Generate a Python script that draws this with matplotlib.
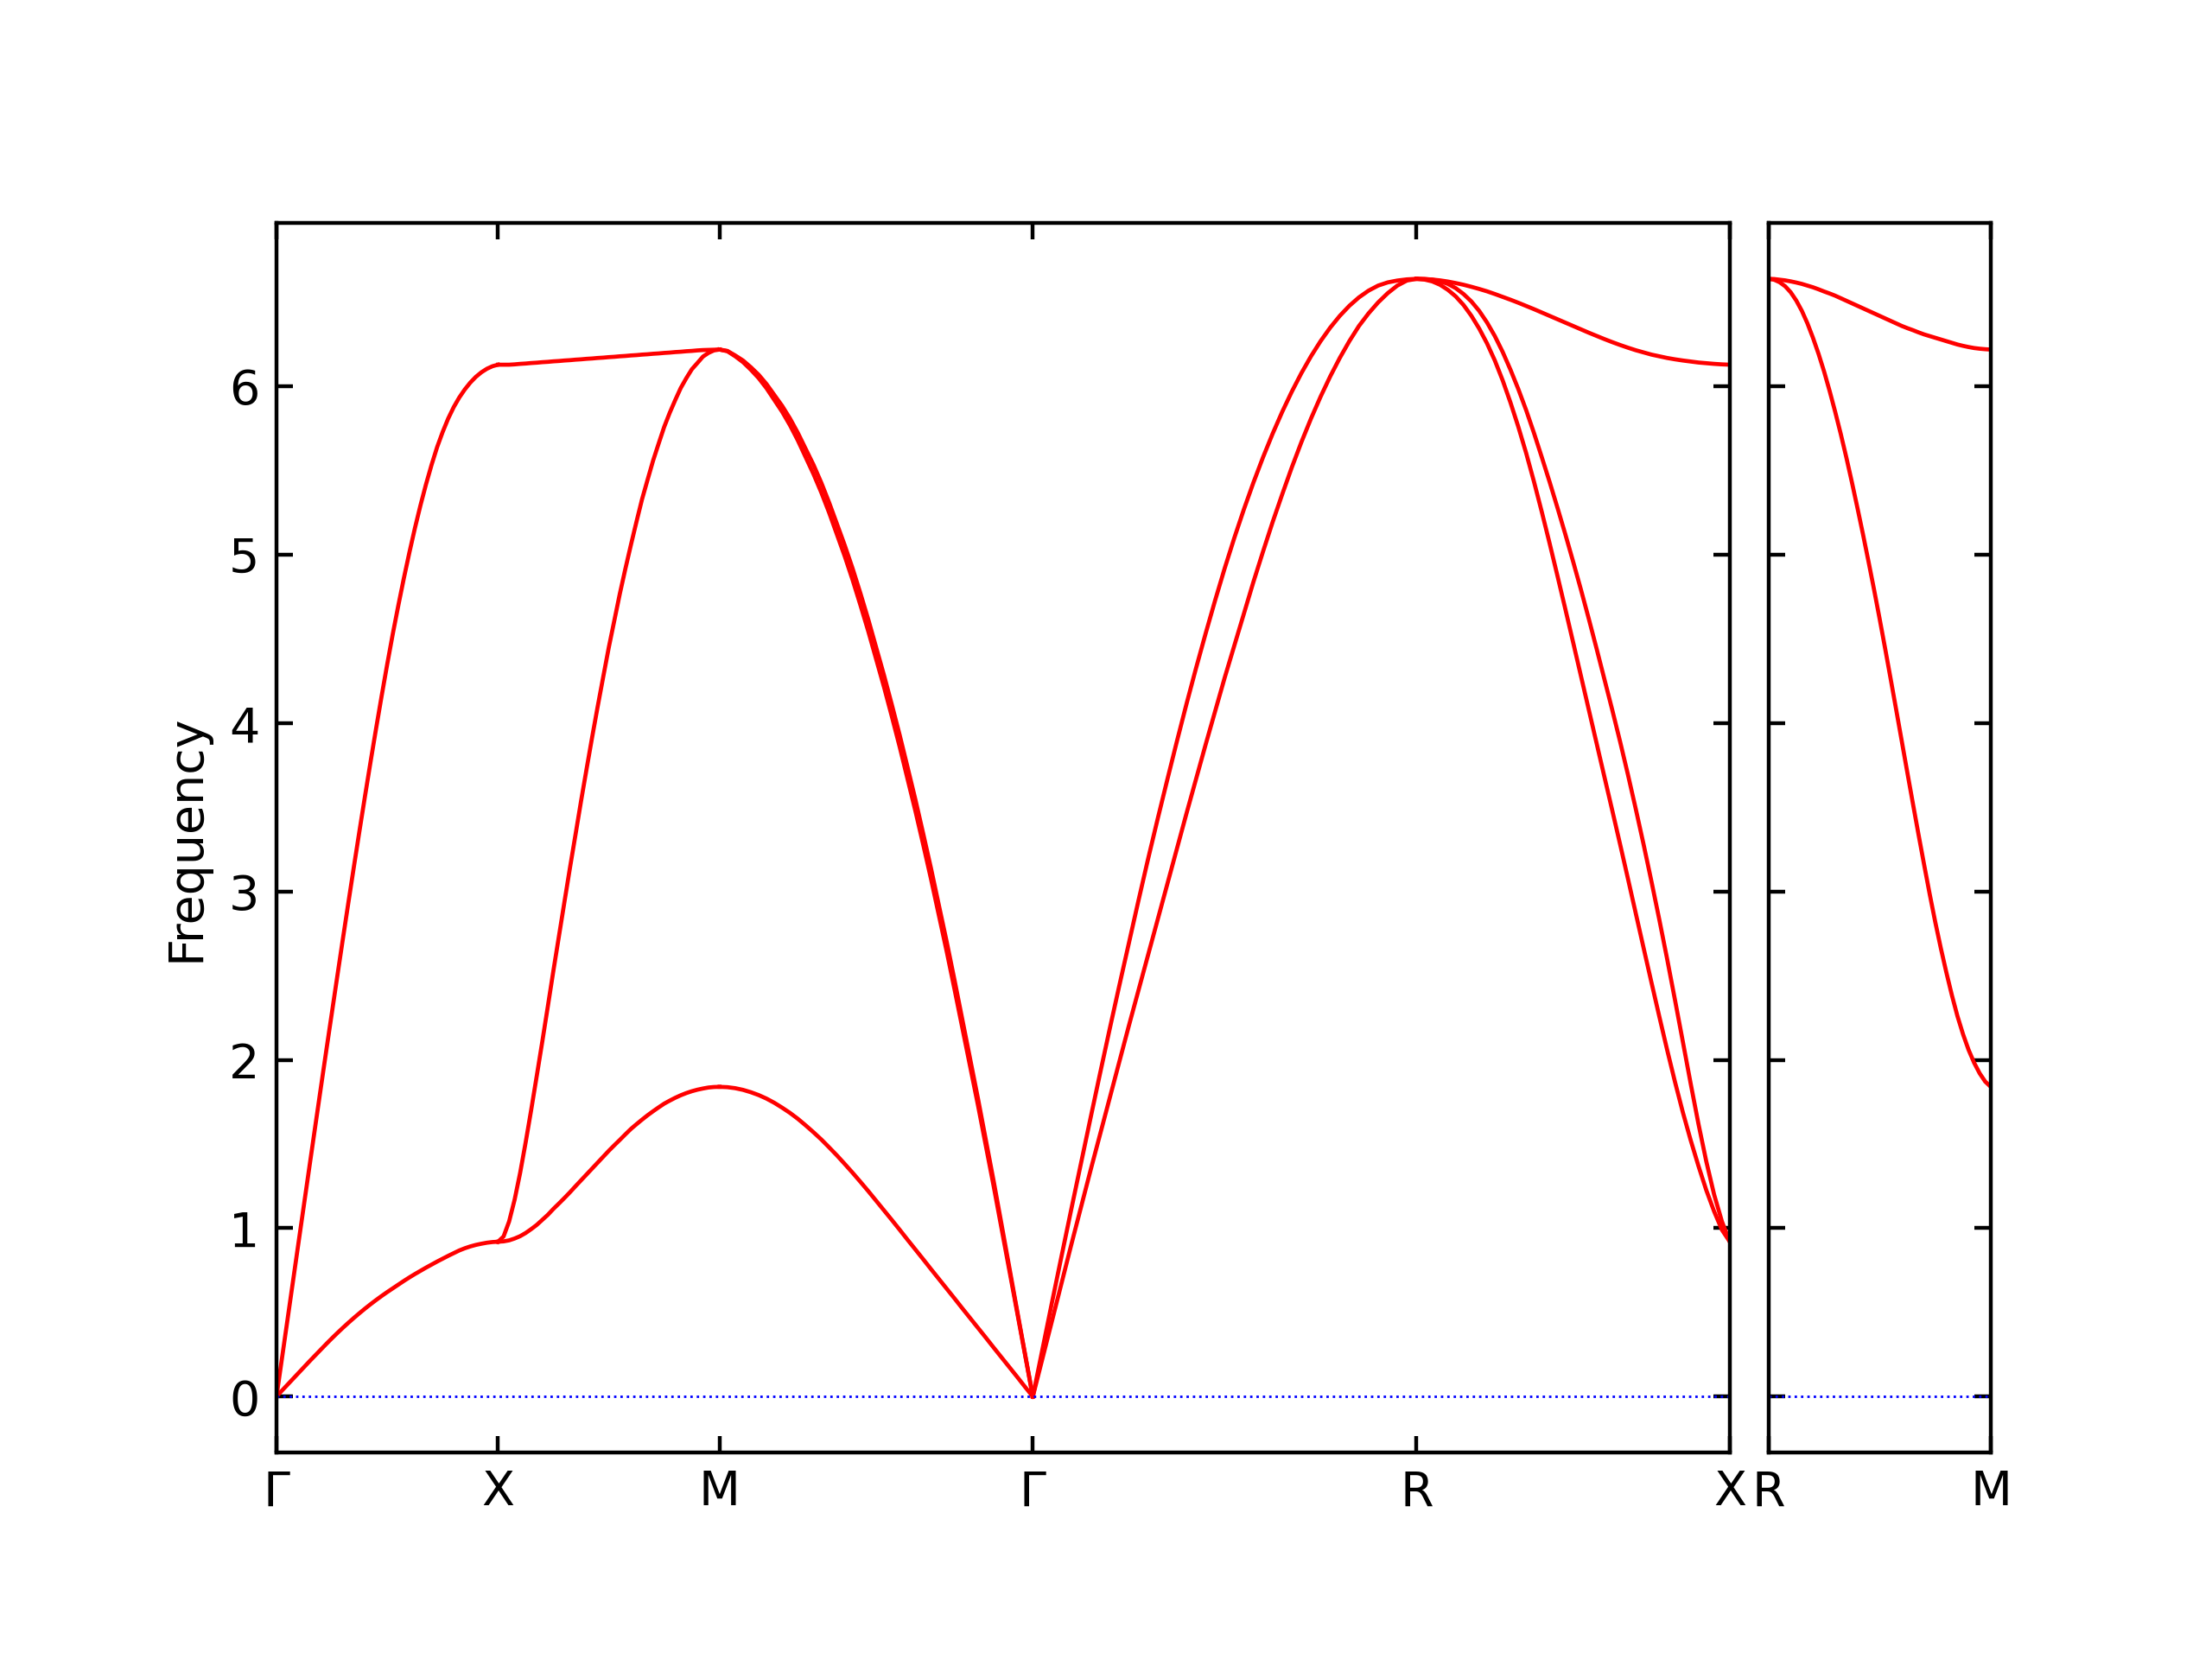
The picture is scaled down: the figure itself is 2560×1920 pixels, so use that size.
import numpy as np
import matplotlib
matplotlib.use("Agg")
import matplotlib.pyplot as plt

# path lengths of the high-symmetry segments (G-X, X-M, M-G, G-R, R-X) and the extra R-M panel
seg_len = [0.5, 0.5, 0.70711, 0.86603, 0.70711]
side_len = 0.5
main_labels = ["Γ", "X", "M", "Γ", "R", "X"]
side_labels = ["R", "M"]

# frequencies, evenly spaced along each segment (41 samples each)
gx_ta = [0.000, 0.036, 0.071, 0.106, 0.141, 0.176, 0.211, 0.245, 0.279, 0.313, 0.346,
         0.378, 0.409, 0.439, 0.468, 0.496, 0.523, 0.549, 0.574, 0.598, 0.621,
         0.643, 0.665, 0.687, 0.708, 0.728, 0.747, 0.766, 0.784, 0.802, 0.819,
         0.836, 0.852, 0.868, 0.881, 0.892, 0.901, 0.908, 0.914, 0.918, 0.920]
gx_la = [0.00, 0.23, 0.46, 0.69, 0.92, 1.149, 1.378, 1.606, 1.833, 2.058, 2.28,
         2.502, 2.722, 2.939, 3.153, 3.364, 3.571, 3.774, 3.972, 4.165, 4.352,
         4.531, 4.70, 4.862, 5.015, 5.16, 5.295, 5.42, 5.535, 5.64, 5.73,
         5.81, 5.878, 5.935, 5.983, 6.024, 6.058, 6.085, 6.106, 6.121, 6.13]

xm_low = [0.920, 0.922, 0.928, 0.939, 0.953, 0.972, 0.995, 1.020, 1.050, 1.080, 1.115,
          1.147, 1.180, 1.214, 1.250, 1.285, 1.320, 1.355, 1.390, 1.425, 1.460,
          1.493, 1.525, 1.558, 1.590, 1.618, 1.645, 1.671, 1.695, 1.718, 1.740,
          1.758, 1.775, 1.790, 1.803, 1.814, 1.823, 1.830, 1.836, 1.839, 1.840]
xm_mid = [0.920, 0.951, 1.040, 1.170, 1.330, 1.512, 1.705, 1.906, 2.110, 2.319, 2.530,
          2.735, 2.940, 3.143, 3.340, 3.539, 3.730, 3.918, 4.100, 4.276, 4.450,
          4.610, 4.770, 4.918, 5.060, 5.197, 5.330, 5.446, 5.560, 5.661, 5.760,
          5.844, 5.920, 5.992, 6.050, 6.103, 6.140, 6.178, 6.200, 6.215, 6.220]
xm_top = [6.130, 6.130, 6.130, 6.132, 6.135, 6.137, 6.140, 6.142, 6.145, 6.147, 6.150,
          6.152, 6.155, 6.157, 6.160, 6.162, 6.165, 6.167, 6.170, 6.172, 6.175,
          6.177, 6.180, 6.182, 6.185, 6.187, 6.190, 6.192, 6.195, 6.197, 6.200,
          6.202, 6.205, 6.207, 6.210, 6.212, 6.215, 6.217, 6.218, 6.219, 6.220]

mg_low = [1.840, 1.838, 1.832, 1.822, 1.808, 1.791, 1.770, 1.745, 1.716, 1.685, 1.650,
          1.611, 1.570, 1.527, 1.480, 1.432, 1.381, 1.329, 1.275, 1.220, 1.163,
          1.106, 1.049, 0.991, 0.932, 0.874, 0.816, 0.757, 0.699, 0.641, 0.583,
          0.524, 0.466, 0.408, 0.350, 0.291, 0.233, 0.175, 0.117, 0.058, 0.000]
mg_mid = [6.22, 6.21, 6.18, 6.145, 6.10, 6.05, 5.99, 5.92, 5.85, 5.77, 5.68,
          5.58, 5.48, 5.37, 5.25, 5.12, 4.99, 4.85, 4.70, 4.545, 4.38,
          4.215, 4.04, 3.86, 3.67, 3.48, 3.28, 3.075, 2.86, 2.645, 2.42,
          2.19, 1.96, 1.73, 1.49, 1.25, 1.00, 0.75, 0.50, 0.25, 0.00]
mg_top = [6.22, 6.212, 6.185, 6.155, 6.115, 6.07, 6.015, 5.95, 5.885, 5.81, 5.725,
          5.63, 5.535, 5.428, 5.31, 5.183, 5.055, 4.918, 4.77, 4.615, 4.45,
          4.285, 4.11, 3.93, 3.74, 3.548, 3.345, 3.138, 2.92, 2.703, 2.475,
          2.24, 2.005, 1.77, 1.525, 1.28, 1.025, 0.768, 0.51, 0.255, 0.00]

gr_low = [0.00, 0.225, 0.45, 0.675, 0.90, 1.12, 1.34, 1.555, 1.77, 1.985, 2.20,
          2.41, 2.62, 2.83, 3.04, 3.25, 3.46, 3.665, 3.87, 4.07, 4.27,
          4.46, 4.65, 4.84, 5.02, 5.195, 5.36, 5.52, 5.67, 5.81, 5.94,
          6.06, 6.17, 6.27, 6.36, 6.435, 6.50, 6.555, 6.60, 6.63, 6.64]
gr_top = [0.00, 0.28, 0.56, 0.836, 1.11, 1.38, 1.65, 1.917, 2.18, 2.437, 2.69,
          2.943, 3.19, 3.428, 3.66, 3.888, 4.11, 4.324, 4.53, 4.729, 4.92,
          5.10, 5.27, 5.43, 5.58, 5.72, 5.85, 5.97, 6.08, 6.18, 6.27,
          6.35, 6.42, 6.48, 6.53, 6.57, 6.60, 6.619, 6.63, 6.637, 6.64]

rx_low = [6.64, 6.636, 6.625, 6.605, 6.575, 6.536, 6.485, 6.421, 6.345, 6.257, 6.155,
          6.037, 5.905, 5.761, 5.605, 5.435, 5.255, 5.068, 4.875, 4.679, 4.48,
          4.28, 4.08, 3.88, 3.68, 3.481, 3.28, 3.076, 2.87, 2.664, 2.46,
          2.258, 2.06, 1.87, 1.69, 1.524, 1.37, 1.226, 1.10, 0.99, 0.92]
rx_mid = [6.64, 6.639, 6.635, 6.626, 6.61, 6.585, 6.55, 6.506, 6.45, 6.381, 6.30,
          6.206, 6.10, 5.985, 5.86, 5.724, 5.58, 5.433, 5.28, 5.123, 4.96,
          4.793, 4.62, 4.442, 4.26, 4.078, 3.89, 3.694, 3.49, 3.279, 3.06,
          2.834, 2.60, 2.357, 2.11, 1.861, 1.62, 1.397, 1.20, 1.04, 0.92]
rx_top = [6.64, 6.639, 6.636, 6.631, 6.624, 6.615, 6.605, 6.593, 6.58, 6.566, 6.55,
          6.533, 6.516, 6.498, 6.479, 6.46, 6.44, 6.42, 6.40, 6.38, 6.36,
          6.34, 6.32, 6.301, 6.282, 6.264, 6.247, 6.231, 6.216, 6.203, 6.19,
          6.18, 6.17, 6.162, 6.155, 6.149, 6.143, 6.139, 6.135, 6.132, 6.13]

rm_low = [6.64, 6.635, 6.62, 6.596, 6.56, 6.511, 6.45, 6.376, 6.29, 6.195, 6.09,
          5.974, 5.85, 5.719, 5.58, 5.433, 5.28, 5.123, 4.96, 4.793, 4.62,
          4.442, 4.26, 4.076, 3.89, 3.704, 3.52, 3.338, 3.16, 2.986, 2.82,
          2.665, 2.52, 2.384, 2.26, 2.153, 2.06, 1.983, 1.92, 1.871, 1.84]
rm_top = [6.64, 6.639, 6.635, 6.631, 6.625, 6.618, 6.61, 6.60, 6.59, 6.578, 6.565,
          6.553, 6.54, 6.525, 6.51, 6.495, 6.48, 6.465, 6.45, 6.435, 6.42,
          6.405, 6.39, 6.375, 6.36, 6.347, 6.335, 6.322, 6.31, 6.30, 6.29,
          6.28, 6.27, 6.26, 6.25, 6.242, 6.235, 6.229, 6.225, 6.222, 6.22]

main_segments = [
    [gx_ta, gx_la],
    [xm_low, xm_mid, xm_top],
    [mg_low, mg_mid, mg_top],
    [gr_low, gr_top],
    [rx_low, rx_mid, rx_top],
]
side_bands = [rm_low, rm_top]

fig = plt.figure(figsize=(6.4, 4.8), dpi=400)
ax = fig.add_axes([0.125, 0.1245, 0.657, 0.7411])
ax2 = fig.add_axes([0.7995, 0.1245, 0.1005, 0.7411])

ticks = np.concatenate([[0.0], np.cumsum(seg_len)])
for i, bands in enumerate(main_segments):
    for band in bands:
        x = np.linspace(ticks[i], ticks[i + 1], len(band))
        ax.plot(x, band, color="r", lw=0.85)

for band in side_bands:
    x = np.linspace(0, side_len, len(band))
    ax2.plot(x, band, color="r", lw=0.85)

fmax = max(max(b) for seg in main_segments for b in seg)
pad = 0.05 * fmax

for a in (ax, ax2):
    a.axhline(0, color="b", ls=":", lw=0.5)
    a.set_ylim(-pad, fmax + pad)
    a.tick_params(direction="in", top=True, right=True)

ax.set_xlim(ticks[0], ticks[-1])
ax.set_xticks(ticks)
ax.set_xticklabels(main_labels)
ax.set_ylabel("Frequency")

ax2.set_xlim(0, side_len)
ax2.set_xticks([0, side_len])
ax2.set_xticklabels(side_labels)
ax2.tick_params(labelleft=False)

fig.savefig("out.png", dpi=400)
